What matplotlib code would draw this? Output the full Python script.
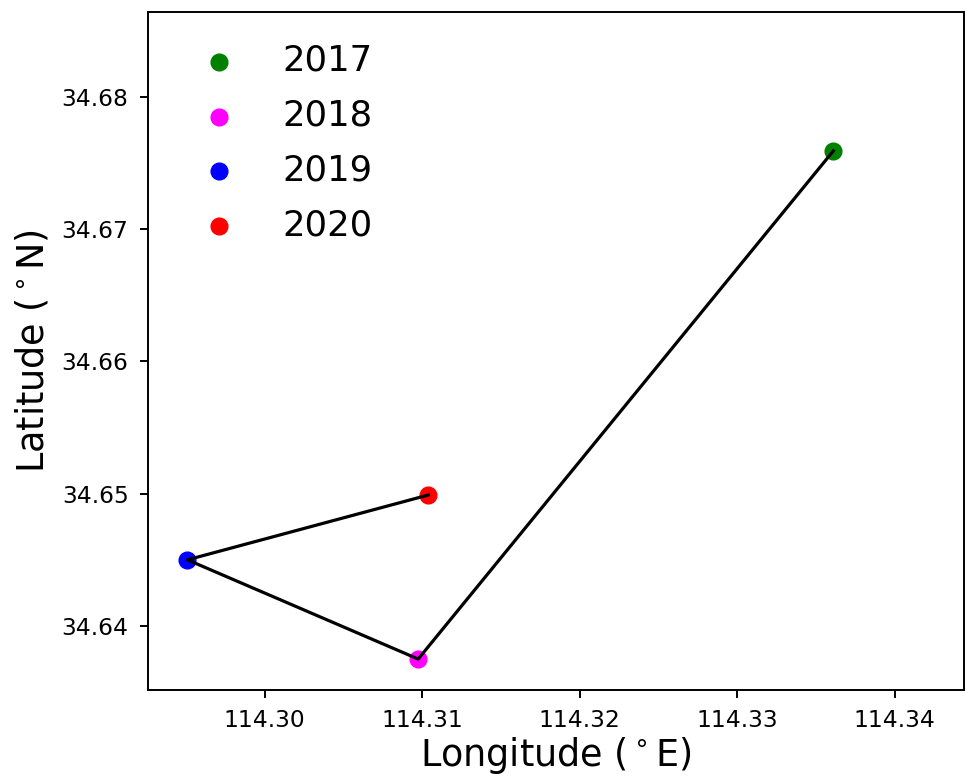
import matplotlib
matplotlib.use("Agg")
import matplotlib.pyplot as plt

years = ["2017", "2018", "2019", "2020"]
lons = [114.3361, 114.30975, 114.2951, 114.3104]
lats = [34.6759, 34.6375, 34.6450, 34.6499]
colors = ["green", "magenta", "blue", "red"]

fig = plt.figure(figsize=(9.65, 7.76), dpi=100)
ax = fig.add_axes([0.1534, 0.1108, 0.8456, 0.8737])

for x, y, c, lab in zip(lons, lats, colors, years):
    ax.scatter([x], [y], s=145, color=c, label=lab, zorder=2)
ax.plot(lons, lats, color="black", lw=2.3, zorder=3)

ax.set_xlim(114.2926, 114.3444)
ax.set_ylim(34.63516, 34.6864)
ax.set_xticks([114.30, 114.31, 114.32, 114.33, 114.34])
ax.set_xticklabels(["114.30", "114.31", "114.32", "114.33", "114.34"])
ax.set_yticks([34.64, 34.65, 34.66, 34.67, 34.68])
ax.set_yticklabels(["34.64", "34.65", "34.66", "34.67", "34.68"])

ax.tick_params(labelsize=16.8, length=6, width=1.4, pad=8)
for s in ax.spines.values():
    s.set_linewidth(1.4)

ax.set_xlabel(r"Longitude ($^\circ$E)", fontsize=26.3, labelpad=2)
ax.set_ylabel(r"Latitude ($^\circ$N)", fontsize=26.3, labelpad=7)

ax.legend(loc="upper left", frameon=False, fontsize=25.5, labelspacing=0.59,
          bbox_to_anchor=(0.004, 1.0))

fig.savefig("out.png", dpi=100)
